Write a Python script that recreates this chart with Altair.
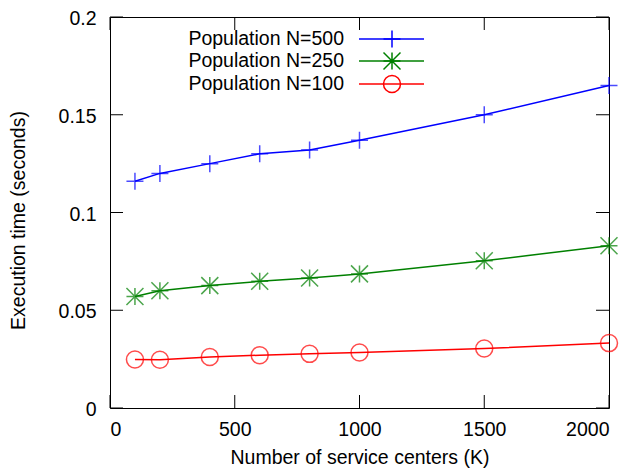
import altair as alt
import pandas as pd

K = [100, 200, 400, 600, 800, 1000, 1500, 2000]
n500 = [0.116, 0.120, 0.125, 0.130, 0.132, 0.137, 0.150, 0.165]
n250 = [0.057, 0.060, 0.0626, 0.0648, 0.0665, 0.0686, 0.0753, 0.083]
n100 = [0.0248, 0.0247, 0.0261, 0.027, 0.0277, 0.0284, 0.0304, 0.0332]

series_names = ["Population N=500", "Population N=250", "Population N=100"]
series_colors = ["#0000ff", "#008000", "#ff0000"]
plus_path = "M-1,0L1,0M0,-1L0,1"
star_path = "M-1,0L1,0M0,-1L0,1M-1,-1L1,1M-1,1L1,-1"
circle_shape = "circle"
series_shapes = [plus_path, star_path, circle_shape]

x_ticks = [0, 500, 1000, 1500, 2000]
y_ticks = [0, 0.05, 0.1, 0.15, 0.2]

W, H = 499, 391
FONT = "Liberation Sans"
FS = 19.5
TICK = 13

rows = []
for name, vals in zip(series_names, [n500, n250, n100]):
    for k, v in zip(K, vals):
        rows.append({"K": k, "time": v, "series": name})
df = pd.DataFrame(rows)

xs = alt.Scale(domain=[0, 2000], nice=False, zero=False)
ys = alt.Scale(domain=[0, 0.2], nice=False, zero=False)

x_axis = alt.Axis(values=x_ticks, format="d", grid=False, domain=False, ticks=False,
                  labelPadding=12, title="Number of service centers (K)",
                  titleX=W / 2, titleY=55, titleBaseline="alphabetic")
y_axis = alt.Axis(values=y_ticks, format=".2~f", grid=False, domain=False, ticks=False,
                  labelPadding=14, labelOffset=1.5, title="Execution time (seconds)",
                  titleX=-92, titleY=203, titleBaseline="middle", titleAngle=-90)

X = alt.X("K:Q", scale=xs, axis=x_axis)
Y = alt.Y("time:Q", scale=ys, axis=y_axis)

color = alt.Color("series:N", scale=alt.Scale(domain=series_names, range=series_colors), legend=None)
shape = alt.Shape("series:N", scale=alt.Scale(domain=series_names, range=series_shapes), legend=None)

base = alt.Chart(df).encode(x=X, y=Y, color=color)
lines = base.mark_line(strokeWidth=1.5)
points = base.mark_point(filled=False, size=289, strokeWidth=1.5).encode(shape=shape)

xt = pd.DataFrame({"K": x_ticks})
yt = pd.DataFrame({"time": y_ticks})
tick_style = dict(color="black", strokeWidth=1)
xb = alt.Chart(xt).mark_rule(**tick_style).encode(x=X, y=alt.value(H), y2=alt.value(H - TICK))
xtop = alt.Chart(xt).mark_rule(**tick_style).encode(x=X, y=alt.value(0), y2=alt.value(TICK))
yl = alt.Chart(yt).mark_rule(**tick_style).encode(y=Y, x=alt.value(0), x2=alt.value(TICK))
yr = alt.Chart(yt).mark_rule(**tick_style).encode(y=Y, x=alt.value(W - TICK), x2=alt.value(W))

# manual gnuplot-style legend
legend_layers = []
leg_y = [22, 44, 67]
for name, col, shp, ly in zip(series_names, series_colors, series_shapes, leg_y):
    one = pd.DataFrame({"label": [name]})
    lc = alt.Chart(one)
    legend_layers.append(lc.mark_text(align="right", baseline="middle", font=FONT,
                                      fontSize=FS, color="black").encode(
        text="label:N", x=alt.value(234), y=alt.value(ly)))
    legend_layers.append(lc.mark_rule(color=col, strokeWidth=1.5).encode(
        x=alt.value(249), x2=alt.value(314), y=alt.value(ly)))
    legend_layers.append(lc.mark_point(filled=False, size=289, strokeWidth=1.5,
                                       color=col, shape=shp, opacity=1).encode(
        x=alt.value(282), y=alt.value(ly)))

chart = alt.layer(lines, points, xb, xtop, yl, yr, *legend_layers).properties(
    width=W, height=H,
    background="white",
    autosize=alt.AutoSizeParams(type="none"),
    padding={"left": 102, "top": 9, "right": 15, "bottom": 60},
).configure_view(stroke="black", strokeWidth=1).configure_axis(
    labelFont=FONT, labelFontSize=FS, labelColor="black",
    titleFont=FONT, titleFontSize=FS, titleFontWeight="normal", titleColor="black",
)

chart.save("out.html", embed_options={"renderer": "svg", "actions": False})
